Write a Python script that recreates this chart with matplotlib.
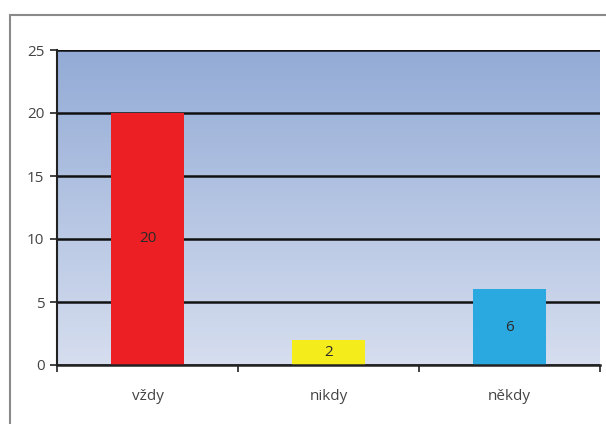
import numpy as np
import matplotlib
matplotlib.use("Agg")
import matplotlib.pyplot as plt
from matplotlib.colors import LinearSegmentedColormap
from matplotlib.patches import Rectangle

# Survey answers
categories = ["vždy", "nikdy", "někdy"]
counts = [20, 2, 6]
bar_colors = ["#ec2024", "#f5ec1c", "#29a9e0"]
y_ticks = [0, 5, 10, 15, 20, 25]

plt.rcParams["font.family"] = ["Open Sans", "DejaVu Sans"]

fig = plt.figure(figsize=(6.06, 4.24), dpi=100)

# Chart frame around everything
fig.patches.append(Rectangle((10 / 606, -0.05), 1.2, (424 - 15) / 424 + 0.05,
                             transform=fig.transFigure, fill=False,
                             edgecolor="#8a8a8a", linewidth=1.5))

ax = fig.add_axes([57 / 606, 59 / 424, 543 / 606, 315 / 424])

# Vertical blue gradient behind the bars
grad = LinearSegmentedColormap.from_list("bg", ["#d6deef", "#93abd6"])
ax.imshow(np.linspace(0, 1, 256).reshape(-1, 1), cmap=grad, aspect="auto",
          origin="lower", extent=[0, 1, 0, 1], transform=ax.transAxes,
          zorder=0)

x = np.arange(len(categories))
ax.bar(x, counts, width=0.4, color=bar_colors, zorder=3)

for xi, v in zip(x, counts):
    ax.text(xi, v / 2, str(v), ha="center", va="center", fontsize=11,
            color="#2a2a2a", zorder=4)

ax.set_xlim(-0.5, len(categories) - 0.5)
ax.set_ylim(0, 25)
ax.set_yticks(y_ticks)
ax.yaxis.grid(True, color="#111111", linewidth=1.8)
ax.set_axisbelow(True)

# Category labels centred, tick marks between categories
ax.set_xticks(x)
ax.set_xticklabels(categories)
ax.tick_params(axis="x", which="major", length=0, pad=17, labelsize=11,
               labelcolor="#444444")
ax.set_xticks(np.arange(-0.5, len(categories)), minor=True)
ax.tick_params(axis="x", which="minor", length=5, width=1.2, color="#222222")
ax.tick_params(axis="y", length=5, width=1.2, color="#222222", labelsize=11,
               labelcolor="#444444", pad=4)

for side in ["top", "right"]:
    ax.spines[side].set_visible(False)
ax.spines["left"].set_color("#222222")
ax.spines["left"].set_linewidth(1.5)
ax.spines["bottom"].set_color("#222222")
ax.spines["bottom"].set_linewidth(1.8)
ax.spines["left"].set_zorder(5)
ax.spines["bottom"].set_zorder(5)

fig.savefig("out.png", dpi=100)
